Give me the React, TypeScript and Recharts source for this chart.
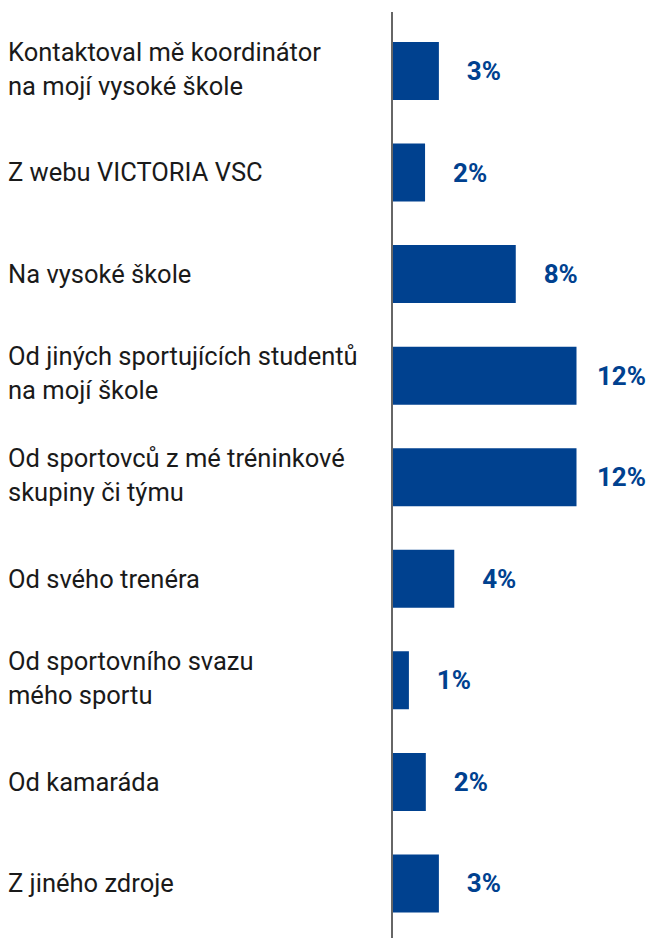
import { Bar, BarChart, LabelList, XAxis, YAxis } from "recharts";

const categories = [
  "Kontaktoval mě koordinátor\nna mojí vysoké škole",
  "Z webu VICTORIA VSC",
  "Na vysoké škole",
  "Od jiných sportujících studentů\nna mojí škole",
  "Od sportovců z mé tréninkové\nskupiny či týmu",
  "Od svého trenéra",
  "Od sportovního svazu\nmého sportu",
  "Od kamaráda",
  "Z jiného zdroje",
];
const shares = [3.05, 2.15, 8.05, 12.0, 12.0, 4.05, 1.1, 2.2, 3.05];

const data = categories.map((name, i) => ({ name, value: shares[i] }));

const blue = "#00418f";

const CategoryTick = (props: any) => {
  const { y, payload } = props;
  const lines = String(payload.value).split("\n");
  if (lines.length === 1) {
    return (
      <text x={0} y={y + 9} fontSize={25.5} fill="#1a1a1a" fontFamily="Roboto">
        {lines[0]}
      </text>
    );
  }
  return (
    <text x={0} y={y - 10} fontSize={25.5} fill="#1a1a1a" fontFamily="Roboto">
      {lines.map((l, i) => (
        <tspan key={i} x={0} dy={i === 0 ? 0 : 34}>
          {l}
        </tspan>
      ))}
    </text>
  );
};

const ValueLabel = (props: any) => {
  const { x, y, width, height, value } = props;
  return (
    <text
      x={x + width + 45}
      y={y + height / 2}
      textAnchor="middle"
      dominantBaseline="central"
      fontSize={26}
      fontWeight={700}
      fill={blue}
      fontFamily="Roboto"
    >
      {Math.round(value)}%
    </text>
  );
};

export default function App() {
  return (
    <BarChart
      width={646}
      height={930}
      data={data}
      layout="vertical"
      margin={{ top: 4, right: 16, bottom: 0, left: 0 }}
    >
      <XAxis type="number" domain={[0, 16]} hide />
      <YAxis
        type="category"
        dataKey="name"
        width={384}
        axisLine={{ stroke: "#666", strokeWidth: 2 }}
        tickLine={false}
        tick={<CategoryTick />}
        padding={{ top: 8, bottom: 4 }}
        interval={0}
      />
      <Bar dataKey="value" fill={blue} barSize={58} isAnimationActive={false}>
        <LabelList dataKey="value" content={<ValueLabel />} />
      </Bar>
    </BarChart>
  );
}
